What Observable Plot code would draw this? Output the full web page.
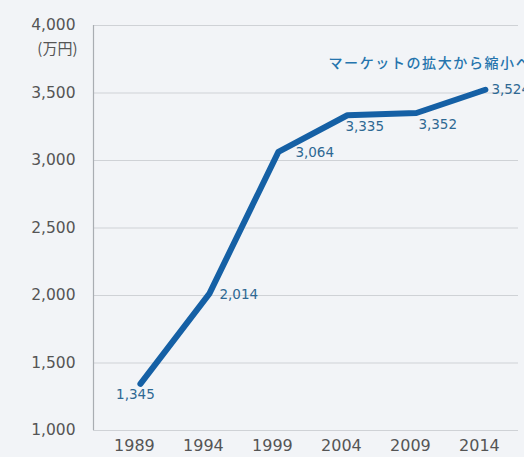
<!DOCTYPE html>
<html>
<head>
<meta charset="utf-8">
<script src="https://cdn.jsdelivr.net/npm/d3@7"></script>
<script src="https://cdn.jsdelivr.net/npm/@observablehq/plot@0.6"></script>
<style>
  html, body { margin: 0; padding: 0; background: #f2f4f7; }
  #chart svg { display: block; overflow: hidden; }
  .anno text { letter-spacing: 1.6px; }
</style>
</head>
<body>
<div id="chart"></div>
<script>
const years = [1989, 1994, 1999, 2004, 2009, 2014];
const values = [1345, 2014, 3064, 3335, 3352, 3524];
const yTicks = [1000, 1500, 2000, 2500, 3000, 3500, 4000];
const unitLabel = "(万円)";
const annotation = "マーケットの拡大から縮小へ";

const data = years.map((year, i) => ({year, value: values[i]}));

// label offsets per point
const labelPos = [
  {anchor: "middle", dx: -5, dy: 11},
  {anchor: "start", dx: 10, dy: 1},
  {anchor: "start", dx: 17, dy: 1},
  {anchor: "start", dx: -2, dy: 11},
  {anchor: "start", dx: 2, dy: 12},
  {anchor: "start", dx: 6, dy: 0}
];

const fmt = d3.format(",");
const numFont = "DejaVu Sans, Verdana, sans-serif";
const lineColor = "#1560a5";
const labelColor = "#2e6893";

const chart = Plot.plot({
  width: 524,
  height: 457,
  marginLeft: 93,
  marginRight: 6,
  marginTop: 25,
  marginBottom: 27,
  style: {background: "#f2f4f7", fontFamily: numFont, overflow: "hidden"},
  x: {domain: [1985.6, 2016.4]},
  y: {domain: [1000, 4000]},
  marks: [
    Plot.ruleY(yTicks, {stroke: "#cfd2d6", strokeWidth: 1}),
    Plot.ruleX([1985.6], {stroke: "#a9adb2", strokeWidth: 1.2}),
    Plot.axisY(yTicks, {tickSize: 0, tickPadding: 18, fontSize: 15.5, fill: "#555", tickFormat: fmt, label: null}),
    Plot.axisX(years, {tickSize: 0, tickPadding: 9, fontSize: 16, fill: "#555", tickFormat: d => String(d), dx: -6, label: null}),
    Plot.text([unitLabel], {frameAnchor: "top-left", dx: -16, dy: 18, textAnchor: "end", fontSize: 15, fill: "#555", fontFamily: "Noto Sans CJK JP, sans-serif"}),
    Plot.text([annotation], {className: "anno", frameAnchor: "top-left", dx: 235, dy: 33, textAnchor: "start", fontSize: 14, fill: "#2574ad", fontFamily: "Noto Sans CJK JP, sans-serif", fontWeight: 500}),
    Plot.line(data, {x: "year", y: "value", stroke: lineColor, strokeWidth: 6, strokeLinejoin: "round", strokeLinecap: "round"}),
    ...data.map((d, i) => Plot.text([d], {
      x: "year", y: "value", text: v => fmt(v.value),
      textAnchor: labelPos[i].anchor, dx: labelPos[i].dx, dy: labelPos[i].dy,
      fontSize: 13.5, fill: labelColor
    }))
  ]
});
document.getElementById("chart").appendChild(chart);
</script>
</body>
</html>
